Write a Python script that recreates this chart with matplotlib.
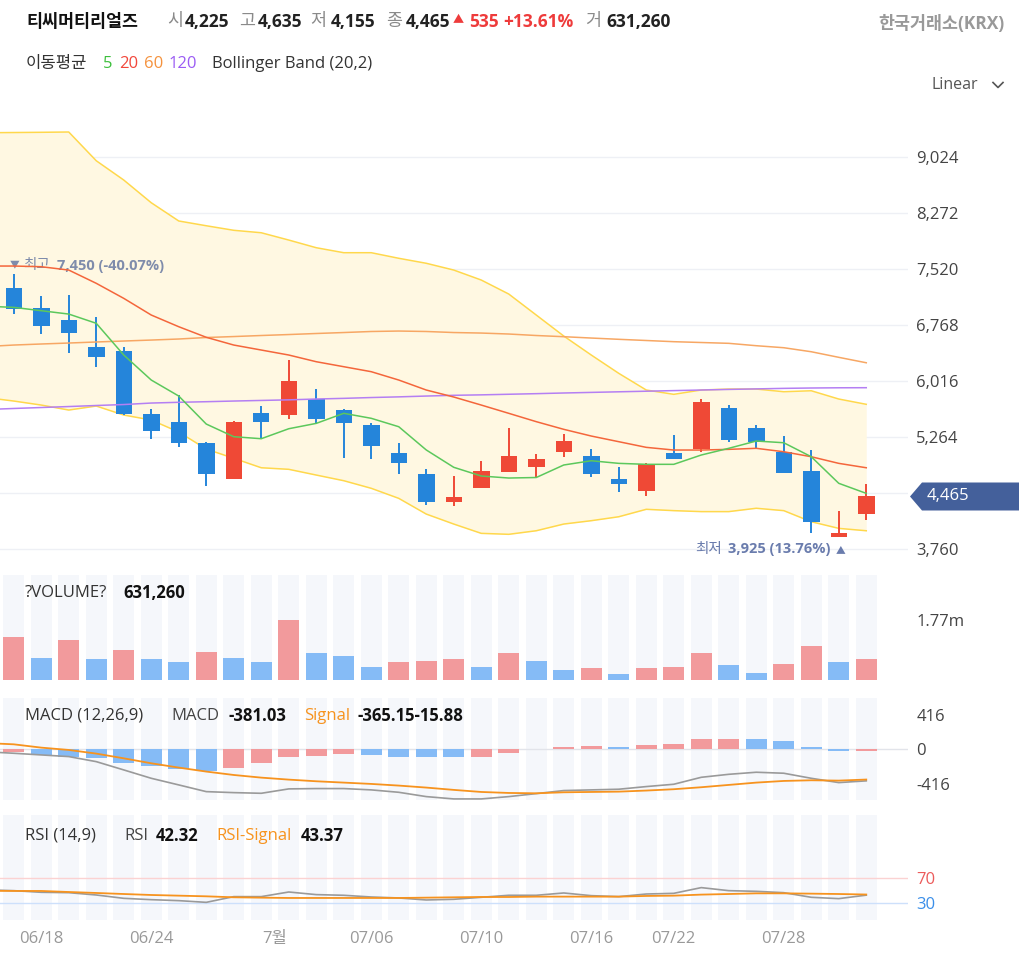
import numpy as np
import matplotlib
matplotlib.use("Agg")
import matplotlib.pyplot as plt
from matplotlib.patches import Polygon
from matplotlib.lines import Line2D

plt.rcParams['font.family'] = ['Open Sans', 'Noto Sans CJK KR', 'DejaVu Sans']

# ---------------- data ----------------
name = '티씨머티리얼즈'
market = '한국거래소(KRX)'

opens = [7261, 6992, 6835, 6476, 6419, 5572, 5465, 5187, 4704, 5586,
         5555, 5770, 5626, 5425, 5045, 4763, 4395, 4583, 4798, 4865,
         5066, 5008, 4700, 4542, 5045, 5098, 5649, 5380, 5066, 4807,
         3925, 4225]
highs = [7450, 7161, 7171, 6879, 6476, 5636, 5828, 5195, 5474, 5680,
         6298, 5908, 5636, 5447, 5187, 4834, 4744, 4941, 5389, 5031,
         5300, 5106, 4857, 4910, 5290, 5774, 5693, 5421, 5281, 5089,
         4274, 4635]
lows = [6916, 6643, 6388, 6200, 5560, 5237, 5133, 4610, 4696, 5241,
        5509, 5452, 4977, 4968, 4767, 4350, 4341, 4575, 4790, 4730,
        4999, 4730, 4529, 4471, 4964, 5066, 5201, 5112, 4780, 3978,
        3925, 4155]
closes = [6983, 6758, 6656, 6334, 5572, 5348, 5187, 4767, 5465, 5465,
          6012, 5505, 5447, 5147, 4910, 4395, 4462, 4807, 5008, 4968,
          5210, 4763, 4628, 4901, 4970, 5730, 5223, 5201, 4784, 4118,
          3930, 4465]
volumes = [1278000, 659000, 1180000, 610000, 885000, 610000, 521000, 836000, 659000, 521000,
           1770000, 787000, 708000, 393000, 521000, 570000, 619000, 393000, 787000, 570000,
           305000, 344000, 167000, 344000, 393000, 787000, 433000, 206000, 472000, 1013000,
           521000, 631260]

# overlays start one session before the first candle
ma5 = [7020, 7005, 6960, 6915, 6791, 6365, 6029, 5814, 5438, 5268, 5241,
       5375, 5447, 5582, 5515, 5402, 5090, 4857, 4740, 4713, 4720,
       4888, 4945, 4910, 4897, 4897, 5022, 5112, 5210, 5187, 4999,
       4642, 4507]
ma20 = [7560, 7560, 7551, 7506, 7328, 7126, 6902, 6745, 6603, 6499, 6432,
        6365, 6275, 6208, 6141, 6029, 5895, 5801, 5693, 5582, 5470,
        5367, 5277, 5201, 5125, 5089, 5089, 5098, 5112, 5066, 4999,
        4910, 4851]
ma60 = [6479, 6499, 6513, 6526, 6540, 6553, 6566, 6580, 6600, 6613, 6627,
        6640, 6654, 6667, 6681, 6687, 6681, 6667, 6660, 6647, 6627,
        6611, 6593, 6576, 6560, 6544, 6533, 6522, 6490, 6463, 6409,
        6334, 6261]
ma120 = [5633, 5647, 5660, 5673, 5687, 5700, 5720, 5730, 5738, 5747, 5755,
         5763, 5774, 5783, 5794, 5803, 5814, 5824, 5830, 5838, 5846,
         5855, 5863, 5871, 5879, 5887, 5895, 5903, 5910, 5917, 5922,
         5925, 5926]
bb_upper = [9350, 9353, 9356, 9360, 8974, 8715, 8410, 8165, 8101, 8040, 8007,
            7909, 7806, 7739, 7739, 7664, 7597, 7506, 7372, 7184, 6902,
            6620, 6365, 6119, 5895, 5837, 5895, 5908, 5908, 5872, 5885,
            5774, 5703]
bb_lower = [5793, 5747, 5693, 5626, 5680, 5559, 5492, 5331, 5102, 4978, 4851,
            4830, 4753, 4677, 4575, 4440, 4229, 4095, 3970, 3957, 4005,
            4095, 4140, 4193, 4293, 4275, 4262, 4262, 4307, 4275, 4126,
            4037, 4005]

macd = [-30, -48, -68, -88, -149, -249, -350, -430, -511, -523, -531,
        -478, -474, -474, -490, -519, -571, -599, -599, -571, -535,
        -498, -490, -482, -450, -422, -338, -302, -277, -289, -350,
        -402, -381.03]
macd_signal = [75, 60, 20, -8, -52, -109, -169, -221, -269, -310, -342,
               -366, -386, -402, -418, -438, -462, -490, -515, -527, -531,
               -519, -515, -511, -498, -482, -458, -430, -402, -382, -374,
               -378, -365.15]
macd_hist = [-36, -68, -88, -109, -169, -201, -237, -261, -221, -169,
             -96, -80, -60, -63, -88, -96, -98, -88, -40, 2,
             32, 34, 31, 48, 68, 121, 124, 120, 105, 28,
             -24, -15.88]

rsi = [51, 49.7, 47, 46.4, 42.6, 37.1, 34.9, 33.3, 30.5, 39.9, 39.9,
       47.5, 43.2, 42.1, 39.3, 37.7, 34.4, 35.5, 38.8, 42.1, 42.1,
       45.9, 41.5, 39.9, 44.2, 45.3, 54.7, 49.7, 48.6, 46.4, 38.8,
       36.6, 42.32]
rsi_signal = [49.5, 49.2, 49.2, 47.5, 45.9, 44.2, 42.6, 41.5, 40.4, 38.8, 38.2,
              37.7, 37.7, 37.7, 37.7, 37.7, 38.2, 38.8, 39.3, 39.3, 39.9,
              39.9, 39.9, 39.9, 41.0, 41.5, 43.2, 44.2, 45.3, 45.3, 44.8,
              44.2, 43.37]

price_ticks = [3760, 4512, 5264, 6016, 6768, 7520, 8272, 9024]
date_ticks = [1, 5, 9.5, 13, 17, 21, 24, 28]
date_labels = ['06/18', '06/24', '7월', '07/06', '07/10', '07/16', '07/22', '07/28']

# ---------------- styling ----------------
RED, BLUE = '#ef4936', '#2585da'
LRED, LBLUE = '#f29a9c', '#85bbf6'
STRIPE = '#f5f7fb'
W, H = 1020, 958

o, h, l, c = map(np.array, (opens, highs, lows, closes))
vol = np.array(volumes)
n = len(c)
x = np.arange(n)
xl = np.arange(-1, n)
up = c >= o
vol_up = np.r_[True, np.diff(vol) > 0]
hist = np.array(macd_hist)
hist_up = np.r_[True, np.diff(hist) > 0]

fig = plt.figure(figsize=(W / 100, H / 100), dpi=100)


def pane(top, bottom):
    ax = fig.add_axes([0, 1 - bottom / H, 908 / W, (bottom - top) / H])
    ax.set_xlim(-0.5, -0.5 + 908 / 27.5)
    for s in ax.spines.values():
        s.set_visible(False)
    ax.set_xticks([])
    ax.yaxis.tick_right()
    ax.tick_params(axis='y', length=0, pad=6, labelsize=12, labelcolor='#444')
    return ax


def ftext(xp, yp, s, **kw):
    kw.setdefault('fontsize', 12)
    kw.setdefault('va', 'center')
    fig.text(xp / W, 1 - yp / H, s, **kw)


ax_p = pane(95, 565)
ax_v = pane(575, 680)
ax_m = pane(698, 800)
ax_r = pane(815, 920)

# price pane
ax_p.set_ylim(3545, 9857)
ax_p.set_yticks(price_ticks)
# the tick sitting under the current-price badge is hidden by it
ax_p.set_yticklabels(['' if abs(t - c[-1]) < 200 else f'{t:,}' for t in price_ticks])
ax_p.grid(axis='y', color='#eef0f5', lw=1)
ax_p.set_axisbelow(True)
ax_p.fill_between(xl, bb_lower, bb_upper, color='#fff8e2', lw=0, zorder=1)
ax_p.plot(xl, bb_upper, color='#ffd84c', lw=1.1, zorder=2)
ax_p.plot(xl, bb_lower, color='#ffd84c', lw=1.1, zorder=2)

cols = np.where(up, RED, BLUE)
ax_p.vlines(x, l, h, colors=cols, lw=1.4, zorder=3)
body = np.maximum(np.abs(c - o), 45)
ax_p.bar(x, body, bottom=np.minimum(o, c), width=0.6, color=cols, zorder=3)

ax_p.plot(xl, ma120, color='#b47ff3', lw=1.1, zorder=4)
ax_p.plot(xl, ma60, color='#f7a764', lw=1.1, zorder=4)
ax_p.plot(xl, ma20, color='#f4663b', lw=1.1, zorder=4)
ax_p.plot(xl, ma5, color='#5cc85c', lw=1.1, zorder=4)

# high / low markers
ih, il = int(np.argmax(h)), int(np.argmin(l))
hc, lc = '#7f8cab', '#6a7cad'
hi_pct = (c[-1] - h[ih]) / h[ih] * 100
lo_pct = (c[-1] - l[il]) / l[il] * 100
ax_p.annotate('▼', (ih, h[ih]), xytext=(-3, 3), textcoords='offset points',
              fontsize=7, color=hc, va='bottom')
ax_p.annotate('최고', (ih, h[ih]), xytext=(7, 1), textcoords='offset points',
              fontsize=10.5, color=hc, va='bottom')
ax_p.annotate(f'{h[ih]:,} ({hi_pct:.2f}%)', (ih, h[ih]), xytext=(31, 1),
              textcoords='offset points', fontsize=10.5, color=hc,
              fontweight='bold', va='bottom')
ax_p.annotate('▲', (il, l[il]), xytext=(4.5, -6), textcoords='offset points',
              fontsize=7, color=lc, va='top', ha='right')
ax_p.annotate(f'{l[il]:,} ({lo_pct:.2f}%)', (il, l[il]), xytext=(-6, -4),
              textcoords='offset points', fontsize=10.5, color=lc,
              fontweight='bold', va='top', ha='right')
ax_p.annotate('최저', (il, l[il]), xytext=(-84, -4), textcoords='offset points',
              fontsize=10.5, color=lc, va='top', ha='right')

# current price badge
yd = ax_p.transData.transform((0, c[-1]))[1] / fig.bbox.height
hh = 14 / H
pts = [(910 / W, yd), (922 / W, yd + hh), (1, yd + hh), (1, yd - hh), (922 / W, yd - hh)]
fig.patches.append(Polygon(pts, closed=True, transform=fig.transFigure,
                           facecolor='#44609b', edgecolor='none', zorder=5))
fig.text(927 / W, yd, f'{c[-1]:,}', color='white', fontsize=12, va='center', zorder=6)

# volume pane
vtop = 3.1e6
ax_v.set_ylim(0, vtop)
ax_v.bar(x, vtop, width=0.78, color=STRIPE, zorder=0)
ax_v.bar(x, vol, width=0.78, color=np.where(vol_up, LRED, LBLUE), zorder=2)
ax_v.set_yticks([vol.max()])
ax_v.set_yticklabels([f'{vol.max() / 1e6:.2f}m'])

# MACD pane
ax_m.set_ylim(-612, 619)
ax_m.bar(x, 1231, bottom=-612, width=0.78, color=STRIPE, zorder=0)
ax_m.axhline(0, color='#e2e4ea', lw=1, zorder=1)
ax_m.bar(x, hist, width=0.78, color=np.where(hist_up, LRED, LBLUE), zorder=2)
ax_m.plot(xl, macd, color='#9a9a9a', lw=1.2, zorder=3)
ax_m.plot(xl, macd_signal, color='#f7931e', lw=1.3, zorder=3)
ax_m.set_yticks([416, 0, -416])
ax_m.set_yticklabels(['416', '0', '-416'])

# RSI pane
ax_r.set_ylim(1.5, 174)
ax_r.bar(x, 172.5, bottom=1.5, width=0.78, color=STRIPE, zorder=0)
ax_r.axhline(70, color='#fbd2d2', lw=1, zorder=1)
ax_r.axhline(30, color='#cde0fb', lw=1, zorder=1)
ax_r.plot(xl, rsi, color='#9a9a9a', lw=1.2, zorder=3)
ax_r.plot(xl, rsi_signal, color='#f7931e', lw=1.3, zorder=3)
ax_r.set_yticks([70, 30])
ax_r.set_yticklabels(['70', '30'])
for t, col in zip(ax_r.get_yticklabels(), ['#ec5b5b', '#3b8fe9']):
    t.set_color(col)
ax_r.set_xticks(date_ticks)
ax_r.set_xticklabels(date_labels)
ax_r.tick_params(axis='x', length=0, pad=8, labelsize=12, labelcolor='#999')

# header
chg = c[-1] - c[-2]
pct = chg / c[-2] * 100
G, D, R = '#8a8a8a', '#222', '#ee3b3b'
ftext(26, 22, name, color='#111', fontweight='bold', fontsize=12.5)
for xp, s, col, wt in [(167, '시', G, 'normal'), (185, f'{o[-1]:,}', D, 'bold'),
                       (239, '고', G, 'normal'), (258, f'{h[-1]:,}', D, 'bold'),
                       (310, '저', G, 'normal'), (331, f'{l[-1]:,}', D, 'bold'),
                       (386, '종', G, 'normal'), (406, f'{c[-1]:,}', D, 'bold'),
                       (469, f'{chg:,}', R, 'bold'), (503, f'+{pct:.2f}%', R, 'bold'),
                       (585, '거', G, 'normal'), (606, f'{vol[-1]:,}', D, 'bold')]:
    ftext(xp, 22, s, color=col, fontweight=wt, fontsize=12.5)
ftext(453, 21, '▲', color=R, fontsize=8)
ftext(1005, 24, market, color='#999', fontweight='bold', fontsize=12.5, ha='right')

ftext(26, 64, '이동평균', color='#333')
ftext(103, 64, '5', color='#3cbf3c')
ftext(119, 64, '20', color='#f2473b')
ftext(144, 64, '60', color='#f5923d')
ftext(169, 64, '120', color='#9b5cf4')
ftext(212, 64, 'Bollinger Band (20,2)', color='#333')

ftext(932, 85, 'Linear', color='#555', fontsize=11.5)
fig.lines.append(Line2D([993 / W, 998 / W, 1003 / W], [1 - 82.5 / H, 1 - 87.5 / H, 1 - 82.5 / H],
                        transform=fig.transFigure, color='#555', lw=1.2))

# pane legends
ftext(25, 593, '?VOLUME?', color='#333')
ftext(123, 593, f'{vol[-1]:,}', color='#111', fontweight='bold')

ftext(25, 716, 'MACD (12,26,9)', color='#333')
ftext(171, 716, 'MACD', color='#444')
ftext(229, 716, f'{macd[-1]:.2f}', color='#111', fontweight='bold')
ftext(304, 716, 'Signal', color='#f7931e')
ftext(358, 716, f'{macd_signal[-1]:.2f}{macd_hist[-1]:.2f}', color='#111', fontweight='bold')

ftext(25, 836, 'RSI (14,9)', color='#333')
ftext(124, 836, 'RSI', color='#444')
ftext(156, 836, f'{rsi[-1]:.2f}', color='#111', fontweight='bold')
ftext(216, 836, 'RSI-Signal', color='#f7931e')
ftext(301, 836, f'{rsi_signal[-1]:.2f}', color='#111', fontweight='bold')

fig.savefig('out.png', dpi=100, facecolor='white')
